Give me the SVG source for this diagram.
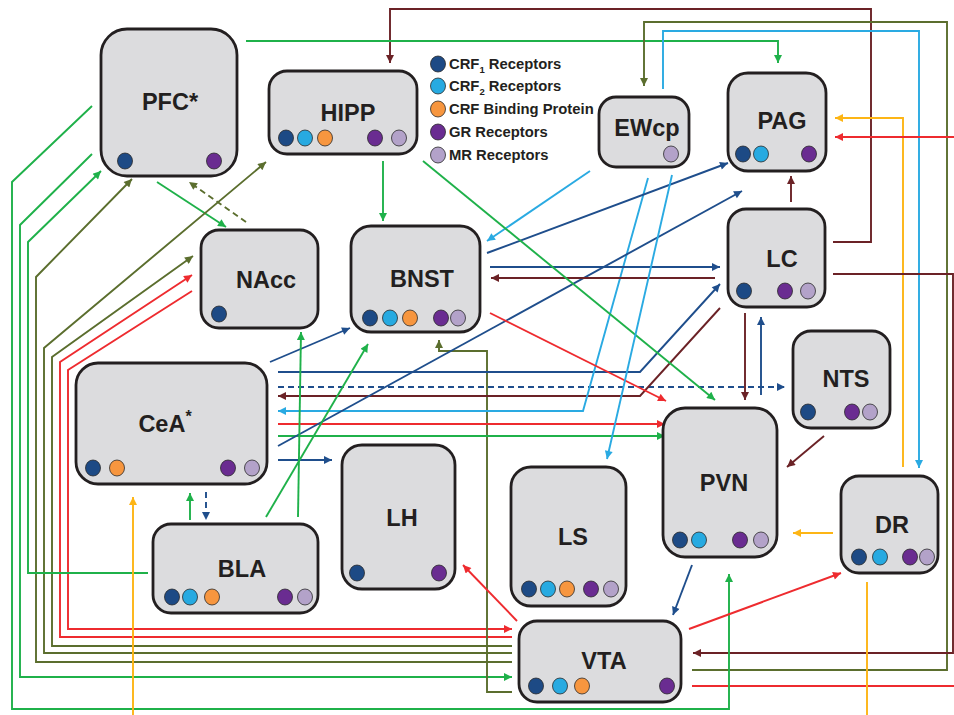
<svg xmlns="http://www.w3.org/2000/svg" width="954" height="715" viewBox="0 0 954 715">
<defs>
<style>
.n{fill:#dcdcde;stroke:#231f20;stroke-width:2.8}
.t{font-family:"Liberation Sans",Arial,sans-serif;font-weight:bold;font-size:23.5px;fill:#231f20;text-anchor:middle}
.lg{font-family:"Liberation Sans",Arial,sans-serif;font-weight:bold;font-size:14.8px;fill:#231f20}
.d{stroke:#2b2b2b;stroke-width:0.8}
.c1{fill:#1d4a85}.c2{fill:#27aae1}.cb{fill:#f7963f}.gr{fill:#6a2c91}.mr{fill:#b3a2c9}
path{fill:none;stroke-width:1.9}
.g{stroke:#1fb14a}.o{stroke:#5b6e2e}.b{stroke:#1f4e8c}.l{stroke:#2aaae2}.r{stroke:#ee2b2f}.m{stroke:#6b2226}.y{stroke:#fdb515}
.ds{stroke-dasharray:6 4}
.ga{marker-end:url(#ag)}.oa{marker-end:url(#ao)}.ba{marker-end:url(#ab)}.la{marker-end:url(#al)}.ra{marker-end:url(#ar)}.ma{marker-end:url(#am)}.ya{marker-end:url(#ay)}
</style>
<marker id="ag" viewBox="0 0 10 10" refX="10" refY="5" markerWidth="10" markerHeight="8" markerUnits="userSpaceOnUse" orient="auto"><path d="M0,0L10,5L0,10z" style="fill:#1fb14a;stroke:none"/></marker>
<marker id="ao" viewBox="0 0 10 10" refX="10" refY="5" markerWidth="10" markerHeight="8" markerUnits="userSpaceOnUse" orient="auto"><path d="M0,0L10,5L0,10z" style="fill:#5b6e2e;stroke:none"/></marker>
<marker id="ab" viewBox="0 0 10 10" refX="10" refY="5" markerWidth="10" markerHeight="8" markerUnits="userSpaceOnUse" orient="auto"><path d="M0,0L10,5L0,10z" style="fill:#1f4e8c;stroke:none"/></marker>
<marker id="al" viewBox="0 0 10 10" refX="10" refY="5" markerWidth="10" markerHeight="8" markerUnits="userSpaceOnUse" orient="auto"><path d="M0,0L10,5L0,10z" style="fill:#2aaae2;stroke:none"/></marker>
<marker id="ar" viewBox="0 0 10 10" refX="10" refY="5" markerWidth="10" markerHeight="8" markerUnits="userSpaceOnUse" orient="auto"><path d="M0,0L10,5L0,10z" style="fill:#ee2b2f;stroke:none"/></marker>
<marker id="am" viewBox="0 0 10 10" refX="10" refY="5" markerWidth="10" markerHeight="8" markerUnits="userSpaceOnUse" orient="auto"><path d="M0,0L10,5L0,10z" style="fill:#6b2226;stroke:none"/></marker>
<marker id="ay" viewBox="0 0 10 10" refX="10" refY="5" markerWidth="10" markerHeight="8" markerUnits="userSpaceOnUse" orient="auto"><path d="M0,0L10,5L0,10z" style="fill:#fdb515;stroke:none"/></marker>
</defs>
<rect width="954" height="715" fill="#ffffff"/>
<g id="connectors">
<path class="m ma" d="M833,242H871V9H390V63"/>
<path class="g ga" d="M246,41H778V63"/>
<path class="o oa" d="M692,670H947V22H644V86"/>
<path class="l la" d="M663,89V31H919V468"/>
<path class="y ya" d="M903,467V118H835"/>
<path class="r ra" d="M692,686H958V137H835"/>
<path class="m ma" d="M791,202V176"/>
<path class="m ma" d="M833,274H953V653H693"/>
<path class="g ga" d="M157,182L226,227"/>
<path class="o oa ds" d="M246,222L189,182"/>
<path class="o oa" d="M512,653H44V348L266,162"/>
<path class="o oa" d="M512,646H52V357L193,256"/>
<path class="o oa" d="M512,662H36V277L132,179"/>
<path class="r ra" d="M192,291L68,370V629H512"/>
<path class="r ra" d="M512,637H60V362L192,275"/>
<path class="g ga" d="M92,154L20,225V677H512"/>
<path class="g ga" d="M92,106L12,182V709H729V574"/>
<path class="g ga" d="M148,573H28V242L101,171"/>
<path class="o oa" d="M512,692H487V351H439V340"/>
<path class="b ba" d="M270,362L350,328"/>
<path class="b ba" d="M278,372H640L720,284"/>
<path class="b ba ds" d="M278,387H785"/>
<path class="m ma" d="M720,308L640,396H278"/>
<path class="l la" d="M648,178L583,411H278"/>
<path class="r ra" d="M278,424H665"/>
<path class="g ga" d="M278,436H665"/>
<path class="b ba" d="M278,446L742,191"/>
<path class="b ba" d="M278,460H332"/>
<path class="g ga" d="M190,520V493"/>
<path class="b ba ds" d="M206,492V520"/>
<path class="g ga" d="M298,517L301,332"/>
<path class="g ga" d="M266,517L368,344"/>
<path class="y ya" d="M867,582V722H133V497"/>
<path class="b ba" d="M487,253L728,163"/>
<path class="b ba" d="M490,267H720"/>
<path class="m ma" d="M715,278H491"/>
<path class="l la" d="M590,171L487,241"/>
<path class="g ga" d="M423,161L715,400"/>
<path class="r ra" d="M490,313L666,401"/>
<path class="l la" d="M672,175L607,459"/>
<path class="m ma" d="M745,313V400"/>
<path class="b ba" d="M761,395V317"/>
<path class="m ma" d="M824,436L787,467"/>
<path class="y ya" d="M833,533H793"/>
<path class="b ba" d="M692,565L673,615"/>
<path class="r ra" d="M689,629L841,573"/>
<path class="r ra" d="M517,621L463,565"/>
<path class="g ga" d="M383,161V221"/>
</g>
<g id="PFC"><rect class="n" x="101" y="29" width="136" height="147" rx="26"/><text class="t" x="170" y="110">PFC*</text><ellipse class="d c1" cx="125" cy="161" rx="7.5" ry="8"/><ellipse class="d gr" cx="214" cy="161" rx="7.5" ry="8"/></g>
<g id="HIPP"><rect class="n" x="269" y="71" width="148" height="83" rx="18"/><text class="t" x="348" y="121">HIPP</text><ellipse class="d c1" cx="286" cy="138" rx="7.5" ry="8"/><ellipse class="d c2" cx="305" cy="138" rx="7.5" ry="8"/><ellipse class="d cb" cx="325" cy="138" rx="7.5" ry="8"/><ellipse class="d gr" cx="375" cy="138" rx="7.5" ry="8"/><ellipse class="d mr" cx="399" cy="138" rx="7.5" ry="8"/></g>
<g id="legend"><ellipse class="d c1" cx="438" cy="64" rx="7.5" ry="8"/><ellipse class="d c2" cx="438" cy="86" rx="7.5" ry="8"/><ellipse class="d cb" cx="438" cy="109" rx="7.5" ry="8"/><ellipse class="d gr" cx="438" cy="132" rx="7.5" ry="8"/><ellipse class="d mr" cx="438" cy="155" rx="7.5" ry="8"/>
<text class="lg" x="449" y="69">CRF<tspan font-size="9.5" dy="4">1</tspan><tspan dy="-4"> Receptors</tspan></text>
<text class="lg" x="449" y="91">CRF<tspan font-size="9.5" dy="4">2</tspan><tspan dy="-4"> Receptors</tspan></text>
<text class="lg" x="449" y="114">CRF Binding Protein</text>
<text class="lg" x="449" y="137">GR Receptors</text>
<text class="lg" x="449" y="160">MR Receptors</text></g>
<g id="EWcp"><rect class="n" x="599" y="97" width="90" height="70" rx="17"/><text class="t" x="647" y="136">EWcp</text><ellipse class="d mr" cx="671" cy="154" rx="7.5" ry="8"/></g>
<g id="PAG"><rect class="n" x="728" y="73" width="98" height="98" rx="20"/><text class="t" x="782" y="129">PAG</text><ellipse class="d c1" cx="743" cy="154" rx="7.5" ry="8"/><ellipse class="d c2" cx="761" cy="154" rx="7.5" ry="8"/><ellipse class="d gr" cx="809" cy="154" rx="7.5" ry="8"/></g>
<g id="NAcc"><rect class="n" x="201" y="230" width="117" height="98" rx="18"/><text class="t" x="266" y="288">NAcc</text><ellipse class="d c1" cx="219" cy="314" rx="7.5" ry="8"/></g>
<g id="BNST"><rect class="n" x="351" y="226" width="129" height="106" rx="20"/><text class="t" x="422" y="287">BNST</text><ellipse class="d c1" cx="370" cy="318" rx="7.5" ry="8"/><ellipse class="d c2" cx="390" cy="318" rx="7.5" ry="8"/><ellipse class="d cb" cx="410" cy="318" rx="7.5" ry="8"/><ellipse class="d gr" cx="441" cy="318" rx="7.5" ry="8"/><ellipse class="d mr" cx="458" cy="318" rx="7.5" ry="8"/></g>
<g id="LC"><rect class="n" x="728" y="209" width="97" height="98" rx="18"/><text class="t" x="782" y="267">LC</text><ellipse class="d c1" cx="744" cy="291" rx="7.5" ry="8"/><ellipse class="d gr" cx="785" cy="291" rx="7.5" ry="8"/><ellipse class="d mr" cx="808" cy="291" rx="7.5" ry="8"/></g>
<g id="NTS"><rect class="n" x="793" y="331" width="97" height="97" rx="18"/><text class="t" x="846" y="387">NTS</text><ellipse class="d c1" cx="808" cy="412" rx="7.5" ry="8"/><ellipse class="d gr" cx="852" cy="412" rx="7.5" ry="8"/><ellipse class="d mr" cx="870" cy="412" rx="7.5" ry="8"/></g>
<g id="CeA"><rect class="n" x="76" y="363" width="191" height="121" rx="22"/><text class="t" x="165" y="432">CeA<tspan font-size="16" dy="-10">*</tspan></text><ellipse class="d c1" cx="93" cy="468" rx="7.5" ry="8"/><ellipse class="d cb" cx="117" cy="468" rx="7.5" ry="8"/><ellipse class="d gr" cx="228" cy="468" rx="7.5" ry="8"/><ellipse class="d mr" cx="252" cy="468" rx="7.5" ry="8"/></g>
<g id="PVN"><rect class="n" x="663" y="408" width="114" height="149" rx="22"/><text class="t" x="724" y="491">PVN</text><ellipse class="d c1" cx="680" cy="540" rx="7.5" ry="8"/><ellipse class="d c2" cx="699" cy="540" rx="7.5" ry="8"/><ellipse class="d gr" cx="740" cy="540" rx="7.5" ry="8"/><ellipse class="d mr" cx="761" cy="540" rx="7.5" ry="8"/></g>
<g id="DR"><rect class="n" x="841" y="476" width="97" height="97" rx="18"/><text class="t" x="892" y="533">DR</text><ellipse class="d c1" cx="859" cy="557" rx="7.5" ry="8"/><ellipse class="d c2" cx="880" cy="557" rx="7.5" ry="8"/><ellipse class="d gr" cx="910" cy="557" rx="7.5" ry="8"/><ellipse class="d mr" cx="927" cy="557" rx="7.5" ry="8"/></g>
<g id="BLA"><rect class="n" x="153" y="524" width="165" height="89" rx="18"/><text class="t" x="242" y="577">BLA</text><ellipse class="d c1" cx="172" cy="597" rx="7.5" ry="8"/><ellipse class="d c2" cx="190" cy="597" rx="7.5" ry="8"/><ellipse class="d cb" cx="212" cy="597" rx="7.5" ry="8"/><ellipse class="d gr" cx="285" cy="597" rx="7.5" ry="8"/><ellipse class="d mr" cx="305" cy="597" rx="7.5" ry="8"/></g>
<g id="LH"><rect class="n" x="342" y="445" width="113" height="144" rx="20"/><text class="t" x="402" y="526">LH</text><ellipse class="d c1" cx="357" cy="573" rx="7.5" ry="8"/><ellipse class="d gr" cx="439" cy="573" rx="7.5" ry="8"/></g>
<g id="LS"><rect class="n" x="511" y="467" width="115" height="139" rx="20"/><text class="t" x="573" y="545">LS</text><ellipse class="d c1" cx="529" cy="589" rx="7.5" ry="8"/><ellipse class="d c2" cx="548" cy="589" rx="7.5" ry="8"/><ellipse class="d cb" cx="567" cy="589" rx="7.5" ry="8"/><ellipse class="d gr" cx="591" cy="589" rx="7.5" ry="8"/><ellipse class="d mr" cx="611" cy="589" rx="7.5" ry="8"/></g>
<g id="VTA"><rect class="n" x="519" y="621" width="162" height="81" rx="18"/><text class="t" x="604" y="669">VTA</text><ellipse class="d c1" cx="536" cy="686" rx="7.5" ry="8"/><ellipse class="d c2" cx="560" cy="686" rx="7.5" ry="8"/><ellipse class="d cb" cx="582" cy="686" rx="7.5" ry="8"/><ellipse class="d gr" cx="667" cy="686" rx="7.5" ry="8"/></g>
</svg>
